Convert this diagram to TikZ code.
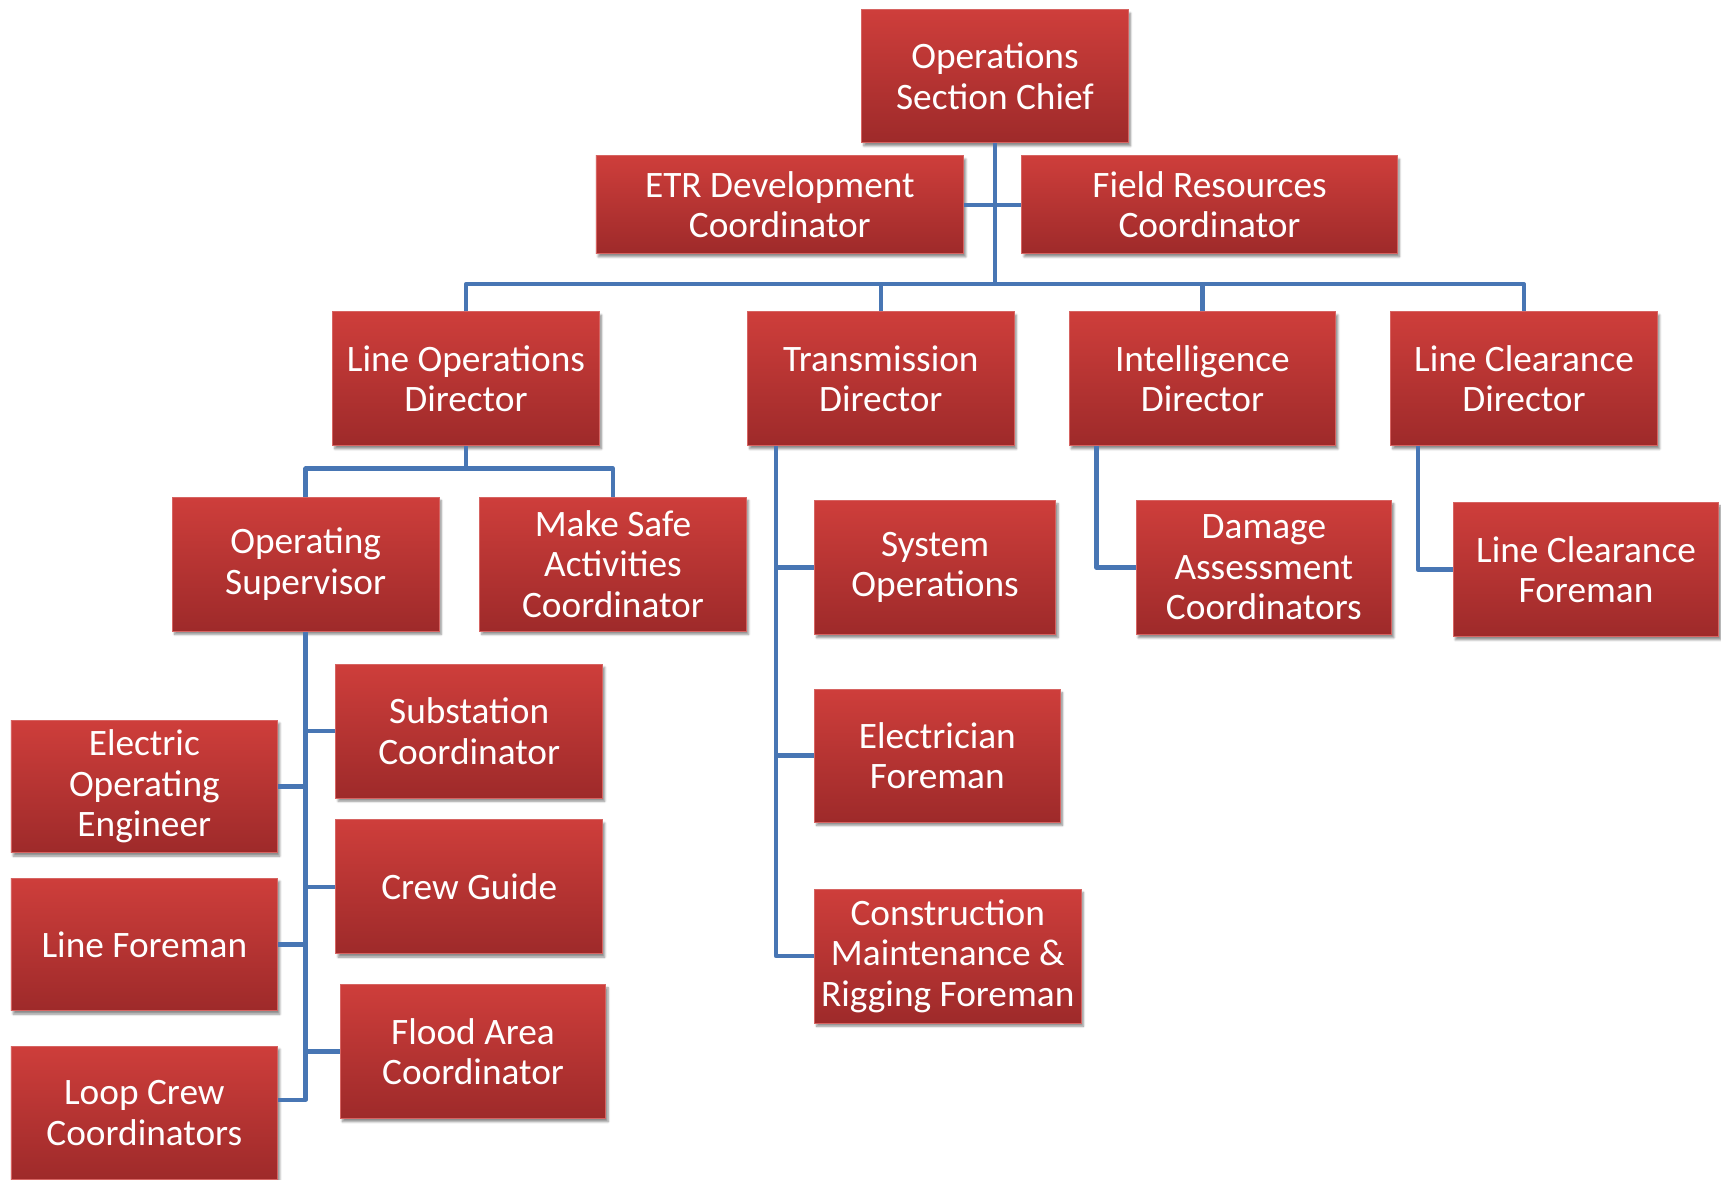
\documentclass[tikz,border=0pt]{standalone}
\usepackage{fontspec}
\setmainfont{Carlito}
\usetikzlibrary{shadows.blur}
\definecolor{boxtop}{RGB}{206,62,59}
\definecolor{boxbot}{RGB}{158,42,42}
\definecolor{boxline}{RGB}{214,100,98}
\definecolor{conncol}{RGB}{72,118,180}
\tikzset{
  orgbox/.style={draw=boxline, line width=0.8pt, top color=boxtop, bottom color=boxbot,
    blur shadow={shadow xshift=2pt, shadow yshift=-3pt, shadow blur steps=6, shadow opacity=45},
    text=white, align=center, inner sep=0pt, minimum width=243pt, minimum height=122pt,
    font=\fontsize{34pt}{37pt}\selectfont},
  conn/.style={draw=conncol, line width=4pt, line join=round}
}
\begin{document}
\begin{tikzpicture}[x=1pt,y=1pt]
\useasboundingbox (0,0) rectangle (1568,-1075);
% boxes
\node[orgbox, minimum height=121pt] (chief) at (906.5,-69.5) {Operations\\Section Chief};
\node[orgbox, minimum width=335pt, minimum height=89pt] (etr) at (710.5,-186.5) {ETR Development\\Coordinator};
\node[orgbox, minimum width=342pt, minimum height=89pt] (field) at (1102,-186.5) {Field Resources\\Coordinator};
\node[orgbox] (lod) at (424.5,-345) {Line Operations\\Director};
\node[orgbox] (td) at (802.5,-345) {Transmission\\Director};
\node[orgbox] (id) at (1095.5,-345) {Intelligence\\Director};
\node[orgbox] (lcd) at (1388.5,-345) {Line Clearance\\Director};
\node[orgbox] (os) at (278.5,-514) {Operating\\Supervisor};
\node[orgbox] (msa) at (558.5,-514) {Make Safe\\Activities\\Coordinator};
\node[orgbox, minimum width=220pt] (so) at (852,-517) {System\\Operations};
\node[orgbox, minimum width=224pt, minimum height=121pt] (ef) at (854,-688.5) {Electrician\\Foreman};
\node[orgbox] (cmr) at (863.5,-871) {Construction\\Maintenance \&\\Rigging Foreman};
\node[orgbox, minimum width=233pt] (dac) at (1151.5,-517) {Damage\\Assessment\\Coordinators};
\node[orgbox, minimum width=242pt] (lcf) at (1445,-519) {Line Clearance\\Foreman};
\node[orgbox] (sc) at (427.5,-666) {Substation\\Coordinator};
\node[orgbox, minimum height=121pt] (eoe) at (131.5,-716.5) {Electric\\Operating\\Engineer};
\node[orgbox] (cg) at (427.5,-808) {Crew Guide};
\node[orgbox, minimum height=121pt] (lf) at (131.5,-860.5) {Line Foreman};
\node[orgbox, minimum width=242pt] (fac) at (431,-958) {Flood Area\\Coordinator};
\node[orgbox] (lcc) at (131.5,-1014) {Loop Crew\\Coordinators};
% junction coordinates
\coordinate (bus) at (906,-259);
\coordinate (lodj) at (424.5,-427);
\coordinate (tspine) at (707,-406);
\coordinate (ispine) at (999,-406);
\coordinate (lspine) at (1292,-406);
\path (lcc.east) ++(0,12) coordinate (lccj);
% connectors
\draw[conn] (chief.south) -- (chief.south |- bus);
\draw[conn] (etr.east) -- (field.west);
\draw[conn] (lod.north) -- (lod.north |- bus) -| (lcd.north);
\draw[conn] (td.north) -- (td.north |- bus);
\draw[conn] (id.north) -- (id.north |- bus);
\draw[conn] (lod.south) -- (lodj);
\draw[conn] (os.north) |- (lodj) -| (msa.north);
\draw[conn] (tspine) |- (cmr.west);
\draw[conn] (so.west) -- (so.west -| tspine);
\draw[conn] (ef.west) -- (ef.west -| tspine);
\draw[conn] (ispine) |- (dac.west);
\draw[conn] (lspine) |- (lcf.west);
\draw[conn] (os.south) |- (lccj);
\draw[conn] (sc.west) -- (sc.west -| os.south);
\draw[conn] (cg.west) -- (cg.west -| os.south);
\draw[conn] (fac.west) -- (fac.west -| os.south);
\draw[conn] (eoe.east) -- (eoe.east -| os.south);
\draw[conn] (lf.east) -- (lf.east -| os.south);
\end{tikzpicture}
\end{document}
